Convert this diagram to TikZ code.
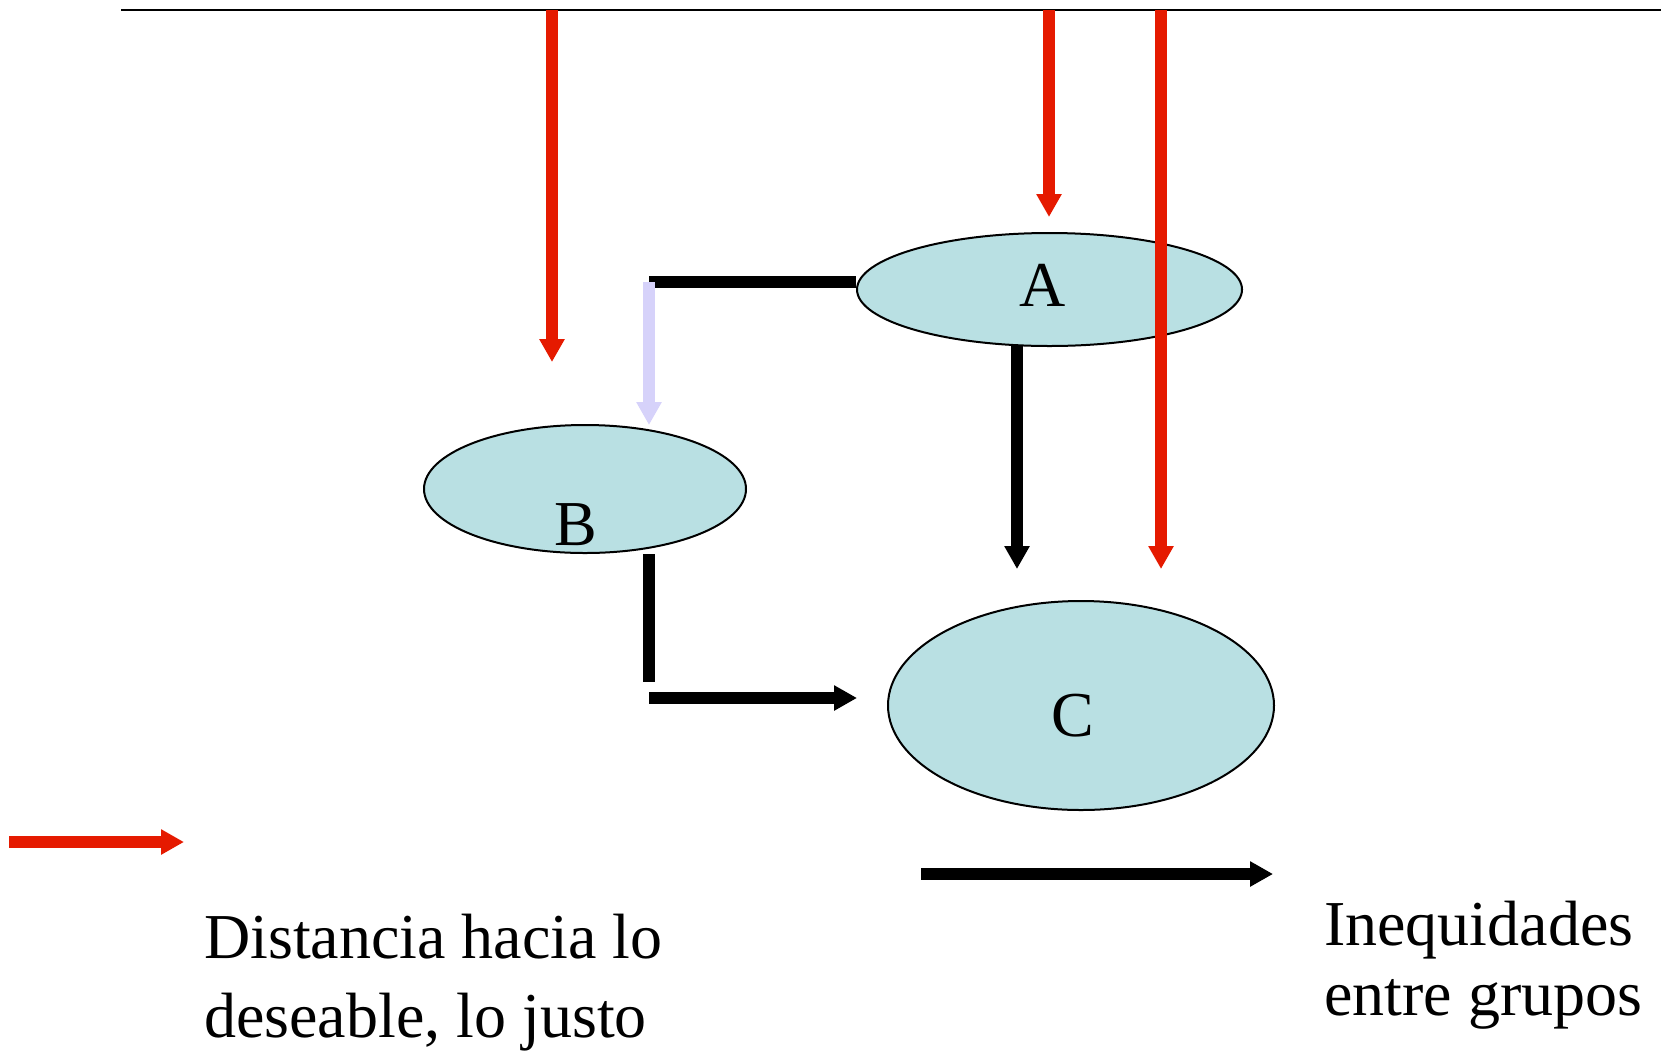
\documentclass[tikz,border=0pt]{standalone}
\usepackage{fontspec}
\setmainfont{Liberation Serif}
\usetikzlibrary{arrows.meta,shapes.geometric}
\definecolor{ovalfill}{RGB}{185,224,227}
\definecolor{arrred}{RGB}{229,26,0}
\definecolor{lavender}{RGB}{214,210,250}
\tikzset{
  oval/.style={ellipse, draw=black, line width=2pt, fill=ovalfill, inner sep=0pt},
  thickarrow/.style={line width=12pt, -{Triangle[length=23pt,width=24pt]}},
  thickbar/.style={line width=12pt},
  redarrow/.style={thickarrow, draw=arrred},
  blackarrow/.style={thickarrow, draw=black},
  lavarrow/.style={thickarrow, draw=lavender},
  ovallabel/.style={anchor=base, inner sep=0pt, font=\fontsize{64}{70}\selectfont},
}
\begin{document}
\begin{tikzpicture}[x=1pt,y=-1pt]
\useasboundingbox (0,0) rectangle (1661,1050);
% top line
\coordinate (tl) at (121,10);
\coordinate (tr) at (1661,10);
\draw[line width=2.5pt] (tl) -- (tr);
% ovals
\node[oval, minimum width=385pt, minimum height=113pt] (A) at (1049.5,289.5) {};
\node[oval, minimum width=322pt, minimum height=128pt] (B) at (585,489) {};
\node[oval, minimum width=386pt, minimum height=209pt] (C) at (1081,705.5) {};
\node[ovallabel] (Alab) at (1043,306) {A};
\node[ovallabel] (Blab) at (576,545) {B};
\node[ovallabel] (Clab) at (1073,736) {C};
% coordinates
\coordinate (r1s) at (552,10);   \coordinate (r1e) at (552,362);
\coordinate (r2s) at (1049,10);  \coordinate (r2e) at (1049,217);
\coordinate (r3s) at (1161,10);  \coordinate (r3e) at (1161,569);
\coordinate (a1s) at (1017,346); \coordinate (a1e) at (1017,569);
\coordinate (bar1) at (649,282);
\coordinate (lav1) at (649,425);
\coordinate (bv1) at (649,554);  \coordinate (bv2) at (649,682);
\coordinate (bh1) at (649,698);  \coordinate (bh2) at (857,698);
\coordinate (lr1) at (9,842);    \coordinate (lr2) at (184,842);
\coordinate (lb1) at (921,874);  \coordinate (lb2) at (1273,874);
% connectors
\draw[thickbar] (bar1 -| A.west) -- (bar1);
\draw[lavarrow] (bar1) -- (lav1);
\draw[blackarrow] (a1s) -- (a1e);
\draw[thickbar] (bv1) -- (bv2);
\draw[blackarrow] (bh1) -- (bh2);
\draw[redarrow] (r1s) -- (r1e);
\draw[redarrow] (r2s) -- (r2e);
\draw[redarrow] (r3s) -- (r3e);
% legend
\draw[redarrow] (lr1) -- (lr2);
\draw[blackarrow] (lb1) -- (lb2);
\node[anchor=base west, inner sep=0pt, align=left, font=\fontsize{64}{79}\selectfont] (dist) at (204,1037) {Distancia hacia lo\\deseable, lo justo};
\node[anchor=base west, inner sep=0pt, align=left, font=\fontsize{64}{70}\selectfont] (ineq) at (1324,1015) {Inequidades\\entre grupos};
\end{tikzpicture}
\end{document}
